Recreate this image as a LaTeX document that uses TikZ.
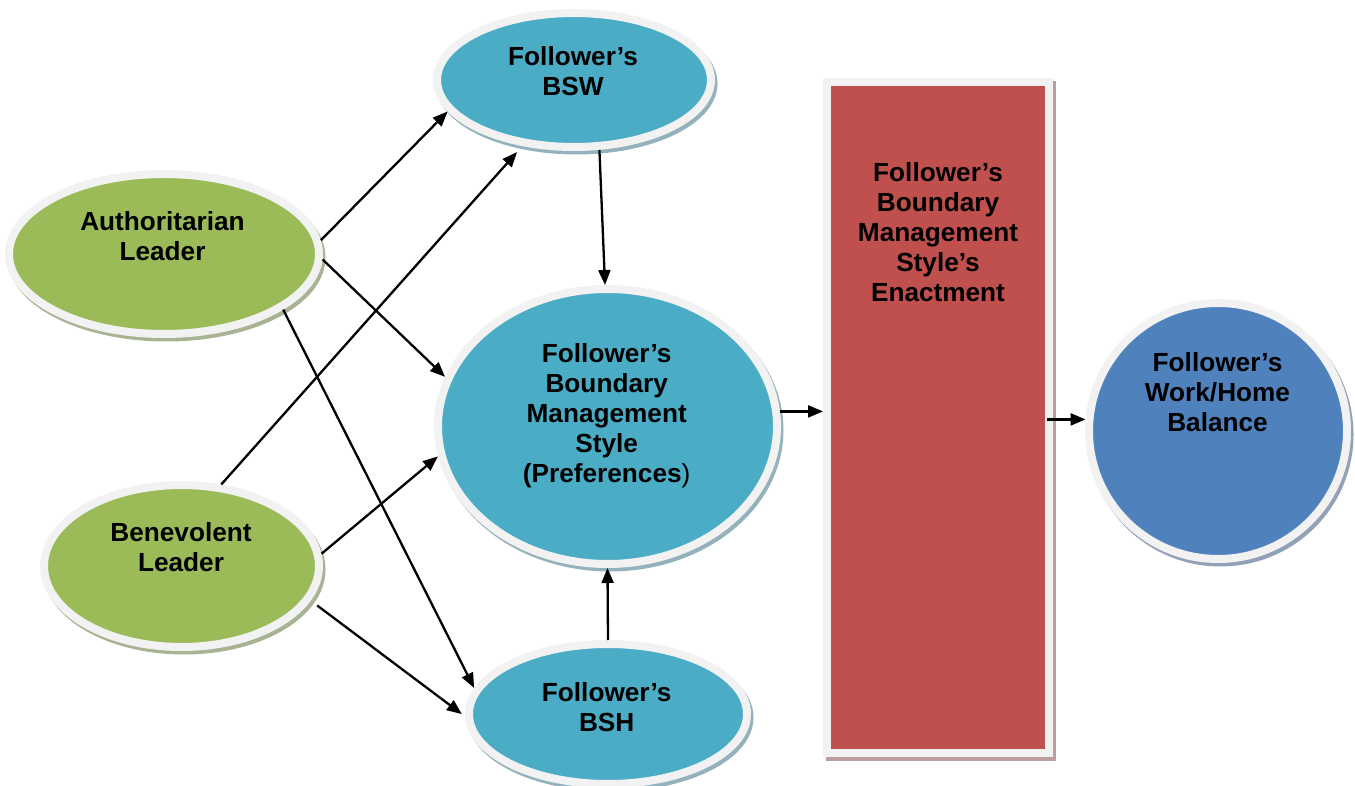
\documentclass[tikz,border=0pt]{standalone}
\usepackage{fontspec}
\setmainfont{Liberation Sans}
\usetikzlibrary{arrows.meta,shapes.geometric}

\definecolor{leafgreen}{HTML}{9BBB59}
\definecolor{aqua}{HTML}{4BACC6}
\definecolor{brick}{HTML}{C0504D}
\definecolor{steel}{HTML}{4F81BD}
\definecolor{rim}{HTML}{F2F2F2}
\definecolor{greenshade}{HTML}{A8B394}
\definecolor{aquashade}{HTML}{94B2BC}
\definecolor{brickshade}{HTML}{BC9C9C}
\definecolor{steelshade}{HTML}{92A1B6}

\newcommand\capstrut{\rule{0pt}{20pt}}

\tikzset{
  blob/.style={ellipse, inner sep=0pt, draw=rim, line width=8pt},
  slab/.style={rectangle, inner sep=0pt, draw=rim, line width=8pt},
  shade/.style={preaction={draw=#1, fill=#1, line width=8pt,
      transform canvas={xshift=2.5pt, yshift=-3.5pt}}},
  caption/.style={anchor=north, inner sep=0pt, align=center,
      font=\bfseries\fontsize{26.2}{30}\selectfont},
  conn/.style={line width=2.3pt, -{Triangle[length=15pt,width=12pt]}},
}

\begin{document}
\begin{tikzpicture}[x=1pt,y=-1pt]
\useasboundingbox (0,0) rectangle (1355,786);

% leaders
\node[blob, fill=leafgreen, shade=greenshade,
      minimum width=310pt, minimum height=160pt] (auth) at (164,254) {};
\node[blob, fill=leafgreen, shade=greenshade,
      minimum width=275pt, minimum height=162pt] (bene) at (181.5,566) {};

% follower constructs
\node[blob, fill=aqua, shade=aquashade,
      minimum width=274pt, minimum height=134pt] (bsw) at (574,80) {};
\node[blob, fill=aqua, shade=aquashade,
      minimum width=339pt, minimum height=275pt] (pref) at (607.5,426.5) {};
\node[blob, fill=aqua, shade=aquashade,
      minimum width=278pt, minimum height=140pt] (bsh) at (608,714) {};

% enactment bar
\node[slab, fill=brick, shade=brickshade,
      minimum width=222pt, minimum height=671pt] (enact) at (938,417.5) {};

% outcome
\node[blob, fill=steel, shade=steelshade,
      minimum width=258pt, minimum height=256pt] (wh) at (1218,431) {};

% labels
\node[caption] (authtext) at (162.5,210) {\capstrut Authoritarian\\Leader};
\node[caption] (benetext) at (181,521.7) {\capstrut Benevolent\\Leader};
\node[caption] (bswtext) at (573,45) {\capstrut Follower’s\\BSW};
\node[caption] (preftext) at (606.7,342) {\capstrut Follower’s\\Boundary\\Management\\Style\\(Preferences\textmd{)}};
\node[caption] (bshtext) at (606.7,681) {\capstrut Follower’s\\BSH};
\node[caption] (enacttext) at (938,161.7) {\capstrut Follower’s\\Boundary\\Management\\Style’s\\Enactment};
\node[caption] (whtext) at (1217.5,351.7) {\capstrut Follower’s\\Work/Home\\Balance};

% connectors
\draw[conn] (auth.5) -- (bsw.194);
\draw[conn] (auth.-2) -- (pref.163);
\draw[conn] (auth.-25) -- (bsh.169);
\draw[conn, shorten >=8pt] (bene.64) -- (bsw.232);
\draw[conn] (bene.5) -- (pref.190);
\draw[conn, shorten <=8pt, shorten >=4pt] (bene.-15) -- (bsh.181);
\draw[conn] (bsw.-70) -- (pref.91);
\draw[conn] (bsh.90) -- (pref.-90);
\draw[conn] (pref.5) -- (pref.5 -| enact.west);
\draw[conn, shorten <=-6pt] (wh.175 -| enact.east) -- (wh.175);
\end{tikzpicture}
\end{document}
